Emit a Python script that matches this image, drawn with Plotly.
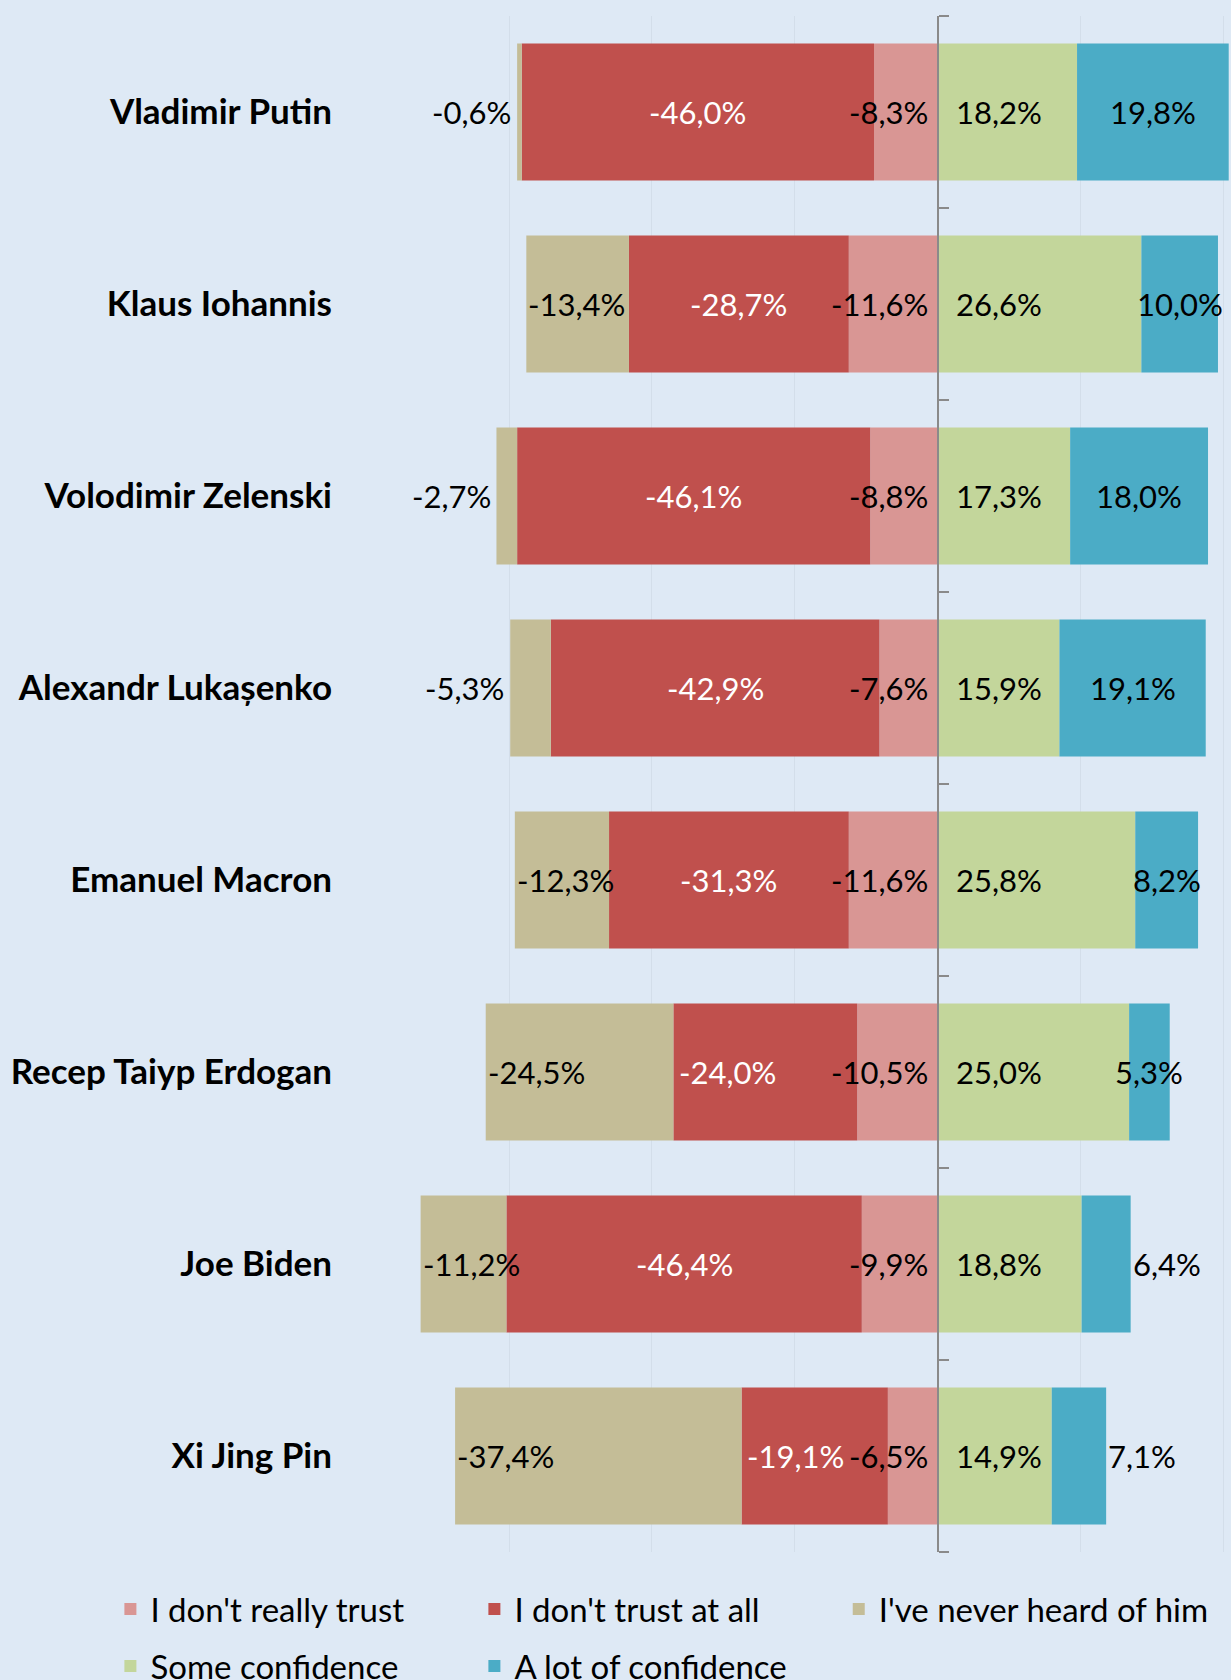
import plotly.graph_objects as go

# leaders, top to bottom
leaders = ['Vladimir Putin', 'Klaus Iohannis', 'Volodimir Zelenski', 'Alexandr Lukașenko',
           'Emanuel Macron', 'Recep Taiyp Erdogan', 'Joe Biden', 'Xi Jing Pin']

# answer shares (%), negative side stacks outward from zero
not_really = [-8.3, -11.6, -8.8, -7.6, -11.6, -10.5, -9.9, -6.5]
not_at_all = [-46.0, -28.7, -46.1, -42.9, -31.3, -24.0, -46.4, -19.1]
never_heard = [-0.6, -13.4, -2.7, -5.3, -12.3, -24.5, -11.2, -37.4]
some_conf = [18.2, 26.6, 17.3, 15.9, 25.8, 25.0, 18.8, 14.9]
lot_conf = [19.8, 10.0, 18.0, 19.1, 8.2, 5.3, 6.4, 7.1]

series_names = ["I don't really trust", "I don't trust at all", "I've never heard of him",
                'Some confidence', 'A lot of confidence']

colors = ['#D99694', '#C0504D', '#C4BD97', '#C3D69B', '#4BACC6']

FONT = 'Lato'
BG = '#DEE9F5'


def pct(v):
    return '{:.1f}%'.format(v).replace('.', ',')


series = [not_really, not_at_all, never_heard, some_conf, lot_conf]
ypos = list(range(len(leaders)))
# legend block for each series: row 1 = pink, red (+ beige in its own block), row 2 = green, blue
legend_ids = ['legend', 'legend', 'legend3', 'legend2', 'legend2']

traces = []
for vals, name, col, leg in zip(series, series_names, colors, legend_ids):
    traces.append(go.Bar(
        y=ypos,
        x=vals,
        name=name,
        orientation='h',
        width=0.713,
        marker=dict(color=col, line=dict(width=0)),
        legend=leg,
        hoverinfo='x+name',
    ))

# invisible helper so the centre axis (yaxis2) gets drawn
traces.append(go.Scatter(x=[0], y=[0], yaxis='y2', mode='markers',
                         marker=dict(opacity=0), showlegend=False, hoverinfo='skip'))

annotations = []
lab_font = dict(family=FONT, size=31, color='black')
for i in range(len(leaders)):
    # pink: right aligned near the centre line
    annotations.append(dict(x=-1.0, y=i, text=pct(not_really[i]), xanchor='right',
                            showarrow=False, font=lab_font))
    # red: centred, white; short segments get the label at their outer end
    red_outer = not_really[i] + not_at_all[i]
    if abs(not_at_all[i]) < 25:
        annotations.append(dict(x=red_outer + 0.5, y=i, text=pct(not_at_all[i]),
                                xanchor='left', showarrow=False,
                                font=dict(family=FONT, size=31, color='white')))
    else:
        annotations.append(dict(x=not_really[i] + not_at_all[i] / 2, y=i, text=pct(not_at_all[i]),
                                xanchor='center', showarrow=False,
                                font=dict(family=FONT, size=31, color='white')))
    # beige: at the outer end of the bar
    outer = red_outer + never_heard[i]
    if abs(never_heard[i]) >= 10:
        annotations.append(dict(x=outer, y=i, text=pct(never_heard[i]), xanchor='left',
                                showarrow=False, font=lab_font))
    else:
        annotations.append(dict(x=outer - 0.5, y=i, text=pct(never_heard[i]), xanchor='right',
                                showarrow=False, font=lab_font))
    # green: left aligned next to the centre line
    annotations.append(dict(x=2.1, y=i, text=pct(some_conf[i]), xanchor='left',
                            showarrow=False, font=lab_font))
    # blue: centred in its segment, or just past the bar end for short bars
    total = some_conf[i] + lot_conf[i]
    if total < 28:
        annotations.append(dict(x=total, y=i, text=pct(lot_conf[i]), xanchor='left',
                                showarrow=False, font=lab_font))
    else:
        annotations.append(dict(x=some_conf[i] + lot_conf[i] / 2, y=i, text=pct(lot_conf[i]),
                                xanchor='center', showarrow=False, font=lab_font))

x_min, x_max = -74.5, 38.3
center_pos = (0 - x_min) / (x_max - x_min)

legend_style = dict(
    orientation='h',
    x=-0.297,
    xanchor='left',
    yanchor='middle',
    entrywidth=319,
    entrywidthmode='pixels',
    traceorder='normal',
    font=dict(family=FONT, size=33, color='black'),
    bgcolor='rgba(0,0,0,0)',
)

layout = go.Layout(
    width=1231,
    height=1680,
    barmode='relative',
    paper_bgcolor=BG,
    plot_bgcolor=BG,
    margin=dict(l=367, r=0, t=16, b=128, autoexpand=False),
    xaxis=dict(
        range=[x_min, x_max],
        showticklabels=False,
        showgrid=True,
        gridcolor='#D3DEEA',
        gridwidth=1,
        tick0=0,
        dtick=18.65,
        zeroline=False,
        showline=False,
        ticks='',
    ),
    yaxis=dict(
        range=[len(leaders) - 0.5, -0.5],
        tickvals=ypos,
        ticktext=leaders,
        ticks='',
        showgrid=False,
        zeroline=False,
        showline=False,
        ticklabelstandoff=34,
        tickfont=dict(family=FONT, size=35, color='black', weight='bold'),
    ),
    yaxis2=dict(
        overlaying='y',
        anchor='free',
        position=center_pos,
        side='right',
        range=[len(leaders) - 0.5, -0.5],
        tickvals=[v - 0.5 for v in range(len(leaders) + 1)],
        ticks='outside',
        ticklen=10,
        tickwidth=2,
        tickcolor='#8A8A8A',
        showline=True,
        linecolor='#8A8A8A',
        linewidth=2,
        showticklabels=False,
        showgrid=False,
        zeroline=False,
    ),
    legend=dict(legend_style, y=-0.0371),
    legend2=dict(legend_style, y=-0.0742),
    legend3=dict(legend_style, y=-0.0371, x=0.546, entrywidth=0),
    annotations=annotations,
    showlegend=True,
)

fig = go.Figure(data=traces, layout=layout)
fig.write_html('out.html', config={'displayModeBar': False},
               post_script="document.body.style.margin='0px';")
